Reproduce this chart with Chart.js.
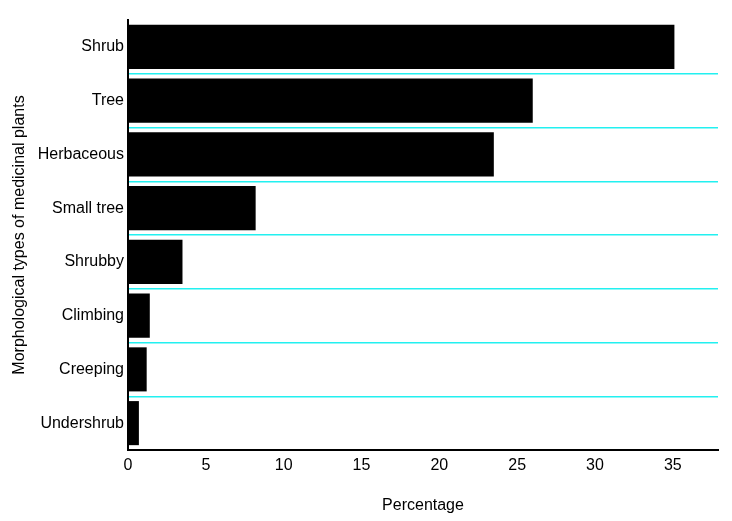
<!DOCTYPE html>
<html>
<head>
<meta charset="utf-8">
<script src="https://cdn.jsdelivr.net/npm/chart.js@4"></script>
<style>
  html, body { margin: 0; padding: 0; background: #fff; }
</style>
</head>
<body>
<canvas id="grafico" width="732" height="521"></canvas>
<script>
// morphological types and their share (%)
const categorias = ['Shrub', 'Tree', 'Herbaceous', 'Small tree', 'Shrubby', 'Climbing', 'Creeping', 'Undershrub'];
const percentagens = [35.1, 26.0, 23.5, 8.2, 3.5, 1.4, 1.2, 0.7];
const ticksX = [0, 5, 10, 15, 20, 25, 30, 35];

const fonte = { family: 'Arial, "Liberation Sans", sans-serif', size: 16 };

new Chart(document.getElementById('grafico').getContext('2d'), {
  type: 'bar',
  data: {
    labels: categorias,
    datasets: [{ data: percentagens, backgroundColor: '#000000', borderWidth: 0, categoryPercentage: 1, barPercentage: 0.82 }]
  },
  options: {
    indexAxis: 'y',
    responsive: false,
    animation: false,
    devicePixelRatio: 1,
    layout: { padding: { top: 20, right: 14, left: 0, bottom: 0 } },
    plugins: { legend: { display: false }, tooltip: { enabled: false } },
    scales: {
      x: {
        min: 0, max: 37.9,
        afterBuildTicks: (s) => { s.ticks = ticksX.map(v => ({ value: v })); },
        afterFit: (s) => { s.height = 71; },
        grid: { display: false, drawTicks: false },
        border: { color: '#000', width: 2 },
        ticks: { color: '#000', font: fonte, padding: 6, maxRotation: 0, autoSkip: false },
        title: { display: true, text: 'Percentage', color: '#000', font: fonte, padding: { top: 6, bottom: 6 } }
      },
      y: {
        afterFit: (s) => { s.width = 128; },
        grid: {
          drawTicks: false,
          color: (ctx) => (ctx.index === 0 || ctx.index >= categorias.length) ? 'rgba(0,0,0,0)' : '#22f0f0',
          lineWidth: 1.5
        },
        border: { color: '#000', width: 2 },
        ticks: { color: '#000', font: fonte, padding: 4, autoSkip: false },
        title: { display: true, text: 'Morphological types of medicinal plants', color: '#000', font: fonte, padding: { top: 10, bottom: 0 } }
      }
    }
  }
});
</script>
</body>
</html>
